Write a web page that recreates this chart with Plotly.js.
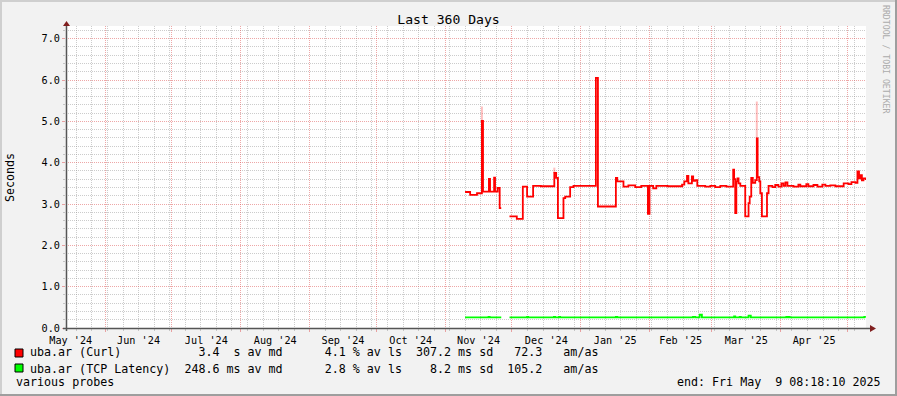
<!DOCTYPE html>
<html><head><meta charset="utf-8">
<script src="https://cdn.plot.ly/plotly-3.0.1.min.js"></script>
<style>html,body{margin:0;padding:0;background:#F2F2F2;overflow:hidden}#chart{width:897px;height:396px}</style>
</head><body><div id="chart"></div>
<script>
// ---------------- data ----------------
const chartTitle = 'Last 360 Days';
const yAxisTitle = 'Seconds';
const rangeStart = '2024-05-14 08:18:10';
const rangeEnd = '2025-05-09 08:18:10';
const endText = 'end: Fri May  9 08:18:10 2025';
const footText = 'various probes';
const watermark = 'RRDTOOL / TOBI OETIKER';

const seriesNames = ['uba.ar (Curl)', 'uba.ar (TCP Latency)'];
const medianValues = [3.4, 248.6];
const medianUnits = ['s', 'ms'];
const lossValues = [4.1, 2.8];
const sdValues = [307.2, 8.2];
const sdUnits = ['ms', 'ms'];
const amasValues = [72.3, 105.2];

const curlDates = [
 '2024-11-09 22:00','2024-11-12 05:00','2024-11-15 07:00','2024-11-17 12:00','2024-11-18 00:00',
 '2024-11-20 16:00','2024-11-21 04:00','2024-11-23 00:00','2024-11-23 10:00','2024-11-24 14:00',
 '2024-11-25 12:00','2024-11-26 05:00','2024-11-26 06:00',
 '2024-11-29 22:00','2024-12-03 05:00','2024-12-05 22:00','2024-12-07 20:00','2024-12-10 13:00',
 '2024-12-14 00:00','2024-12-20 02:00','2024-12-20 22:00','2024-12-21 17:00','2024-12-24 05:00',
 '2024-12-25 00:00','2024-12-27 05:00','2024-12-28 17:00','2025-01-07 19:00','2025-01-08 17:00',
 '2025-01-16 19:00','2025-01-17 10:00','2025-01-20 05:00','2025-01-22 10:00','2025-01-25 12:00',
 '2025-01-28 05:00','2025-01-31 05:00','2025-01-31 22:00','2025-02-02 14:00','2025-02-04 00:00',
 '2025-02-09 00:00','2025-02-15 14:00','2025-02-16 14:00','2025-02-17 19:00','2025-02-18 10:00',
 '2025-02-20 00:00','2025-02-20 14:00','2025-02-21 12:00','2025-02-22 10:00','2025-02-26 00:00',
 '2025-02-28 07:00','2025-03-02 12:00','2025-03-04 19:00','2025-03-07 12:00','2025-03-10 14:00',
 '2025-03-11 00:00','2025-03-11 12:00','2025-03-12 00:00','2025-03-12 12:00','2025-03-13 00:00',
 '2025-03-13 19:00','2025-03-16 00:00','2025-03-17 12:00','2025-03-18 00:00','2025-03-18 17:00',
 '2025-03-19 10:00','2025-03-20 12:00','2025-03-21 05:00','2025-03-21 14:00','2025-03-22 07:00',
 '2025-03-22 19:00','2025-03-23 12:00','2025-03-25 19:00','2025-03-26 12:00','2025-03-28 05:00',
 '2025-03-29 12:00','2025-03-30 22:00','2025-04-01 07:00','2025-04-02 05:00','2025-04-03 02:00',
 '2025-04-04 00:00','2025-04-06 17:00','2025-04-08 22:00','2025-04-09 19:00','2025-04-12 12:00',
 '2025-04-13 10:00','2025-04-15 17:00','2025-04-17 12:00','2025-04-19 17:00','2025-04-21 02:00',
 '2025-04-23 07:00','2025-04-25 14:00','2025-04-29 07:00','2025-05-01 12:00','2025-05-02 19:00',
 '2025-05-04 14:00','2025-05-05 12:00','2025-05-06 05:00','2025-05-06 22:00','2025-05-07 12:00',
 '2025-05-08 05:00','2025-05-09 07:00'];
const curlValues = [
 3.29,3.22,3.26,5.01,3.30,
 3.61,3.30,3.64,3.30,3.39,
 2.90,2.90,null,
 2.70,2.64,3.42,3.18,3.44,
 3.43,3.75,3.63,2.66,3.14,
 3.18,3.41,3.44,6.05,2.94,
 3.63,3.55,3.42,3.45,3.41,
 3.44,2.76,3.44,3.38,3.44,
 3.43,3.47,3.55,3.68,3.50,
 3.67,3.56,3.58,3.44,3.42,
 3.44,3.41,3.44,3.42,3.83,
 3.60,2.78,3.55,3.62,3.50,
 3.44,2.70,3.02,3.18,3.63,
 3.51,3.58,4.59,3.65,3.55,
 3.26,2.70,3.26,3.44,3.41,
 3.46,3.42,3.50,3.44,3.52,
 3.44,3.42,3.47,3.43,3.48,
 3.43,3.46,3.42,3.47,3.44,
 3.45,3.43,3.50,3.48,3.53,
 3.51,3.79,3.62,3.70,3.57,
 3.62,3.58];

// faint "smoke" above the Curl spikes
const smokeDates = ['2024-11-17 12:00', '2024-12-20 02:00', '2025-03-21 05:00'];
const smokeLow = [5.01, 3.75, 4.59];
const smokeHigh = [5.36, 3.88, 5.48];

const tcpDates = [
 '2024-11-09 22:00','2024-11-20 12:00','2024-11-21 00:00','2024-11-26 05:00','2024-11-26 06:00',
 '2024-11-29 22:00','2024-12-07 20:00','2024-12-08 08:00','2024-12-19 22:00','2024-12-20 10:00',
 '2024-12-22 05:00','2024-12-22 17:00','2025-01-16 19:00','2025-01-17 10:00','2025-02-20 12:00',
 '2025-02-21 12:00','2025-02-23 12:00','2025-02-24 12:00','2025-03-11 00:00','2025-03-11 12:00',
 '2025-03-13 12:00','2025-03-14 00:00','2025-03-17 12:00','2025-03-18 12:00','2025-04-03 12:00',
 '2025-04-04 00:00','2025-04-04 12:00','2025-04-05 00:00','2025-05-08 14:00','2025-05-09 07:00'];
const tcpValues = [
 0.255,0.27,0.255,0.255,null,
 0.255,0.27,0.255,0.27,0.255,
 0.27,0.255,0.27,0.255,0.27,
 0.255,0.32,0.255,0.28,0.255,
 0.27,0.255,0.30,0.255,0.27,
 0.255,0.27,0.255,0.27,0.27];

// ---------------- styling / layout helpers ----------------
const seriesColors = ['#FF0000', '#00FF00'];
const MONO = 'DejaVu Sans Mono, monospace';
const W = 897, H = 396;
const L = 66, R = 866, T = 26, B = 328;
const PW = R - L, PH = B - T;
const px = x => (x - L) / PW;
const py = y => (B - y) / PH;
const yTop = 7.307;
const GRID = 'rgba(143,143,143,0.45)';
const MGRID = 'rgba(222,79,79,0.5)';
const NB = s => s.replace(/ /g, '\u00A0');

function legendRow(i) {
  const name = seriesNames[i].padEnd(20, ' ');
  return name + '  ' + medianValues[i].toFixed(1).padStart(5) + ' ' + medianUnits[i].padStart(2) + ' av md' +
    '    ' + lossValues[i].toFixed(1).padStart(5) + ' % av ls' +
    '  ' + sdValues[i].toFixed(1).padStart(5) + ' ' + sdUnits[i] + ' sd' +
    '  ' + amasValues[i].toFixed(1).padStart(5) + '   am/as';
}

const traces = [
  {x: smokeDates, y: smokeHigh.map((h, i) => h - smokeLow[i]), base: smokeLow, type: 'bar',
   width: 0.9 * 86400000, marker: {color: 'rgba(255,0,0,0.25)', line: {width: 0}}, hoverinfo: 'skip'},
  {x: curlDates, y: curlValues, type: 'scatter', mode: 'lines', name: seriesNames[0],
   line: {color: seriesColors[0], width: 1.8, shape: 'hv'}, connectgaps: false, hoverinfo: 'skip'},
  {x: tcpDates, y: tcpValues, type: 'scatter', mode: 'lines', name: seriesNames[1],
   line: {color: seriesColors[1], width: 1.8, shape: 'hv'}, connectgaps: false, hoverinfo: 'skip'}
];

const shapes = [
  // frame
  {type:'rect', xref:'paper', yref:'paper', x0:px(0), x1:px(W), y0:py(0), y1:py(2), line:{width:0}, fillcolor:'#CFCFCF', layer:'below'},
  {type:'rect', xref:'paper', yref:'paper', x0:px(0), x1:px(2), y0:py(0), y1:py(H), line:{width:0}, fillcolor:'#CFCFCF', layer:'below'},
  {type:'rect', xref:'paper', yref:'paper', x0:px(0), x1:px(W), y0:py(H-2), y1:py(H), line:{width:0}, fillcolor:'#9E9E9E', layer:'below'},
  {type:'rect', xref:'paper', yref:'paper', x0:px(W-2), x1:px(W), y0:py(0), y1:py(H), line:{width:0}, fillcolor:'#9E9E9E', layer:'below'},
  // axes
  {type:'line', xref:'paper', yref:'paper', x0:px(66.5), x1:px(66.5), y0:py(331), y1:py(24), line:{color:'rgb(85,85,85)', width:1.5}},
  {type:'line', xref:'paper', yref:'paper', x0:px(63), x1:px(871), y0:py(328.5), y1:py(328.5), line:{color:'rgb(85,85,85)', width:1.5}},
  {type:'path', xref:'paper', yref:'paper',
   path:`M ${px(66.5)} ${py(21)} L ${px(63)} ${py(26)} L ${px(70)} ${py(26)} Z`, fillcolor:'#801F1F', line:{width:0}},
  {type:'path', xref:'paper', yref:'paper',
   path:`M ${px(876)} ${py(328.5)} L ${px(870)} ${py(325)} L ${px(870)} ${py(332)} Z`, fillcolor:'#801F1F', line:{width:0}},
  // legend boxes
  {type:'rect', xref:'paper', yref:'paper', x0:px(15), x1:px(23), y0:py(357), y1:py(349), fillcolor:seriesColors[0], line:{color:'#000', width:1}},
  {type:'rect', xref:'paper', yref:'paper', x0:px(15), x1:px(23), y0:py(372), y1:py(364), fillcolor:seriesColors[1], line:{color:'#000', width:1}}
];

const ann = (text, x, y, opts) => Object.assign({text: NB(text), xref:'paper', yref:'paper', x: px(x), y: py(y),
  xanchor:'left', yanchor:'middle', showarrow:false, borderpad:0, borderwidth:0,
  font:{family: MONO, size: 11.67, color:'#000'}}, opts || {});

const annotations = [
  ann(legendRow(0), 30, 352),
  ann(legendRow(1), 30, 368.5),
  ann(footText, 16, 382),
  ann(endText, 881, 382, {xanchor:'right'}),
  {text: yAxisTitle, xref:'paper', yref:'paper', x: px(10), y: py(177), xanchor:'center', yanchor:'middle',
   textangle:-90, showarrow:false, borderpad:0, font:{family: MONO, size: 11.67, color:'#000'}},
  {text: NB(watermark), xref:'paper', yref:'paper', x: px(886), y: py(60), xanchor:'center', yanchor:'middle',
   textangle:90, showarrow:false, borderpad:0, font:{family: MONO, size: 8.2, color:'#ABABAB'}}
];

const layout = {
  width: W, height: H,
  margin: {l: L, r: W - R, t: T, b: H - B, pad: 0},
  paper_bgcolor: '#F2F2F2', plot_bgcolor: '#FFFFFF',
  showlegend: false, barmode: 'overlay',
  title: {text: chartTitle, x: 0.5, xref: 'container', xanchor: 'center', y: 1 - 19/H, yref: 'container', yanchor: 'middle',
          font: {family: MONO, size: 13.1, color: '#000'}},
  xaxis: {
    type: 'date', range: [rangeStart, rangeEnd], fixedrange: true,
    tick0: '2024-06-01', dtick: 'M1', ticklabelmode: 'period', tickformat: "%b '%y",
    showgrid: true, gridcolor: MGRID, griddash: '1px,1px', gridwidth: 1,
    ticks: 'outside', ticklen: 3, tickcolor: MGRID, tickwidth: 1,
    minor: {tick0: '2024-06-02', dtick: 7*86400000, showgrid: true, gridcolor: GRID, griddash: '1px,1px', gridwidth: 1,
            ticks: 'outside', ticklen: 2, tickcolor: GRID},
    zeroline: false, showline: false,
    tickfont: {family: MONO, size: 10.2, color: '#000'}
  },
  yaxis: {
    range: [0, yTop], fixedrange: true,
    tick0: 0, dtick: 1, tickformat: '.1f',
    showgrid: true, gridcolor: MGRID, griddash: '1px,1px', gridwidth: 1,
    ticks: 'outside', ticklen: 3, tickcolor: MGRID, tickwidth: 1,
    minor: {tick0: 0, dtick: 0.2, showgrid: true, gridcolor: GRID, griddash: '1px,1px', gridwidth: 1,
            ticks: 'outside', ticklen: 2, tickcolor: GRID},
    zeroline: false, showline: false,
    tickfont: {family: MONO, size: 10.2, color: '#000'}
  },
  shapes: shapes,
  annotations: annotations
};

Plotly.newPlot('chart', traces, layout, {staticPlot: true, displayModeBar: false});
</script>
</body></html>
